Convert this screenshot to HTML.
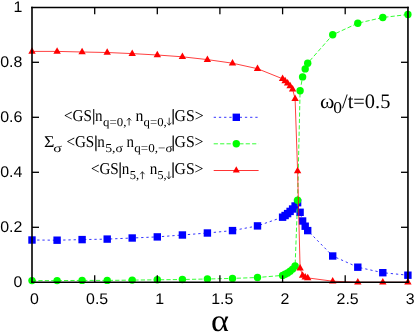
<!DOCTYPE html>
<html><head><meta charset="utf-8"><style>
html,body{margin:0;padding:0;background:#fff;}
svg{display:block;will-change:transform;transform:translateZ(0)}
.t{font-family:"Liberation Sans",sans-serif;font-size:15.4px;fill:#000;text-rendering:geometricPrecision}
.s{font-family:"Liberation Serif",serif;font-size:15.4px;fill:#000;text-rendering:geometricPrecision}
</style></head><body>
<svg width="415" height="333" viewBox="0 0 415 333">
<rect width="415" height="333" fill="#fff"/>
<g class="s">
<text transform="translate(64.01,120.50) scale(0.917,1.000)" font-size="16.5">&lt;GS|n</text>
<text transform="translate(103.07,125.50) scale(1.055,1.000)" font-size="12.2">q=0,</text>
<text transform="translate(135.42,120.50) scale(0.960,1.000)" font-size="16.5">n</text>
<text transform="translate(143.58,125.50) scale(1.046,1.000)" font-size="12.2">q=0,</text>
<text transform="translate(171.41,120.50) scale(0.954,1.000)" font-size="16.5">|GS&gt;</text>
<text transform="translate(43.88,147.40) scale(1.087,1.000)" font-size="16.5">Σ</text>
<text transform="translate(53.35,152.40) scale(1.300,1.000)" font-size="12.2">σ</text>
<text transform="translate(66.41,147.40) scale(0.915,1.000)" font-size="16.5">&lt;GS|n</text>
<text transform="translate(105.15,152.40) scale(1.132,1.000)" font-size="12.2">5,σ</text>
<text transform="translate(126.55,147.40) scale(0.907,1.000)" font-size="16.5">n</text>
<text transform="translate(134.26,152.40) scale(1.074,1.000)" font-size="12.2">q=0,−σ</text>
<text transform="translate(171.41,147.40) scale(0.951,1.000)" font-size="16.5">|GS&gt;</text>
<text transform="translate(90.91,174.20) scale(0.917,1.000)" font-size="16.5">&lt;GS|n</text>
<text transform="translate(129.83,179.20) scale(1.032,1.000)" font-size="12.2">5,</text>
<text transform="translate(149.64,174.20) scale(0.920,1.000)" font-size="16.5">n</text>
<text transform="translate(157.55,179.20) scale(0.994,1.000)" font-size="12.2">5,</text>
<text transform="translate(171.41,174.20) scale(0.951,1.000)" font-size="16.5">|GS&gt;</text>
<text transform="translate(320.00,108.40) scale(1.067,1.000)" font-size="20.5">ω</text>
<text transform="translate(333.30,113.40) scale(1.067,1.000)" font-size="16.5">0</text>
<text transform="translate(342.00,108.40) scale(0.995,1.000)" font-size="20.5">/t=0.5</text>
<text transform="translate(211.08,331.20) scale(1.223,1.125)" font-size="28">α</text>
<path d="M129.1,125.5 V118.1 M127.0,120.5 L129.1,118.0 L131.2,120.5" fill="none" stroke="#000" stroke-width="0.75"/>
<path d="M169.2,117.7 V125.1 M167.1,122.7 L169.2,125.2 L171.3,122.7" fill="none" stroke="#000" stroke-width="0.75"/>
<path d="M142.4,179.2 V171.8 M140.3,174.2 L142.4,171.7 L144.5,174.2" fill="none" stroke="#000" stroke-width="0.75"/>
<path d="M168.9,171.4 V178.8 M166.8,176.4 L168.9,178.9 L171.0,176.4" fill="none" stroke="#000" stroke-width="0.75"/>
<path d="M93.7,108.9 V124.3" stroke="#333" stroke-width="1.2" fill="none"/>
<path d="M96.0,135.8 V151.2" stroke="#333" stroke-width="1.2" fill="none"/>
<path d="M120.1,162.6 V178.0" stroke="#333" stroke-width="1.2" fill="none"/>
<path d="M173.3,108.9 V124.3" stroke="#333" stroke-width="1.2" fill="none"/>
<path d="M173.4,135.8 V151.2" stroke="#333" stroke-width="1.2" fill="none"/>
<path d="M173.1,162.6 V178.0" stroke="#333" stroke-width="1.2" fill="none"/>
</g>
<g stroke-width="1">
<line x1="213.7" y1="117.3" x2="258.6" y2="117.3" stroke="#0000ff" stroke-width="0.8" stroke-dasharray="2.3,2.9"/>
<rect x="232.6" y="113.6" width="7.4" height="7.4" fill="#0000ff"/>
<line x1="213.7" y1="143.8" x2="258.6" y2="143.8" stroke="#00ff00" stroke-width="0.8" stroke-dasharray="4.2,2.2"/>
<circle cx="236.3" cy="143.8" r="3.7" fill="#00ff00"/>
<line x1="213.7" y1="170.5" x2="258.6" y2="170.5" stroke="#ff0000" stroke-width="0.8"/>
<path d="M236.3,166.2 L232.8,172.5 L239.8,172.5 Z" fill="#ff0000"/>
</g>
<polyline points="32.0,240.0 57.1,240.2 82.1,239.6 107.2,239.1 132.2,238.0 157.3,236.9 182.4,235.0 207.4,233.0 232.5,230.6 257.5,225.9 282.6,217.2 285.1,215.5 287.6,213.6 290.1,211.4 292.6,209.0 295.1,206.0 297.6,202.7 300.1,212.3 302.6,221.0 305.2,226.2 307.7,230.6 332.7,256.0 357.8,267.2 382.8,272.7 407.9,275.2" fill="none" stroke="#0000ff" stroke-width="0.8" stroke-dasharray="2.3,2.9"/>
<rect x="28.3" y="236.3" width="7.4" height="7.4" fill="#0000ff"/>
<rect x="53.4" y="236.5" width="7.4" height="7.4" fill="#0000ff"/>
<rect x="78.4" y="235.9" width="7.4" height="7.4" fill="#0000ff"/>
<rect x="103.5" y="235.4" width="7.4" height="7.4" fill="#0000ff"/>
<rect x="128.5" y="234.3" width="7.4" height="7.4" fill="#0000ff"/>
<rect x="153.6" y="233.2" width="7.4" height="7.4" fill="#0000ff"/>
<rect x="178.7" y="231.3" width="7.4" height="7.4" fill="#0000ff"/>
<rect x="203.7" y="229.3" width="7.4" height="7.4" fill="#0000ff"/>
<rect x="228.8" y="226.9" width="7.4" height="7.4" fill="#0000ff"/>
<rect x="253.8" y="222.2" width="7.4" height="7.4" fill="#0000ff"/>
<rect x="278.9" y="213.5" width="7.4" height="7.4" fill="#0000ff"/>
<rect x="281.4" y="211.8" width="7.4" height="7.4" fill="#0000ff"/>
<rect x="283.9" y="209.9" width="7.4" height="7.4" fill="#0000ff"/>
<rect x="286.4" y="207.7" width="7.4" height="7.4" fill="#0000ff"/>
<rect x="288.9" y="205.3" width="7.4" height="7.4" fill="#0000ff"/>
<rect x="291.4" y="202.3" width="7.4" height="7.4" fill="#0000ff"/>
<rect x="293.9" y="199.0" width="7.4" height="7.4" fill="#0000ff"/>
<rect x="296.4" y="208.6" width="7.4" height="7.4" fill="#0000ff"/>
<rect x="298.9" y="217.3" width="7.4" height="7.4" fill="#0000ff"/>
<rect x="301.5" y="222.5" width="7.4" height="7.4" fill="#0000ff"/>
<rect x="304.0" y="226.9" width="7.4" height="7.4" fill="#0000ff"/>
<rect x="329.0" y="252.3" width="7.4" height="7.4" fill="#0000ff"/>
<rect x="354.1" y="263.5" width="7.4" height="7.4" fill="#0000ff"/>
<rect x="379.1" y="269.0" width="7.4" height="7.4" fill="#0000ff"/>
<rect x="404.2" y="271.5" width="7.4" height="7.4" fill="#0000ff"/>
<polyline points="32.0,280.6 57.1,280.6 82.1,280.4 107.2,280.4 132.2,280.1 157.3,279.8 182.4,279.5 207.4,279.0 232.5,278.4 257.5,277.5 282.6,275.4 285.1,274.3 287.6,273.0 290.1,271.3 292.6,269.1 295.1,265.9 297.6,200.2 300.1,90.8 302.6,76.9 305.2,68.9 307.7,63.2 332.7,34.8 357.8,23.2 382.8,17.5 407.9,14.5" fill="none" stroke="#00ff00" stroke-width="0.8" stroke-dasharray="4.2,2.2"/>
<circle cx="32.0" cy="280.6" r="3.7" fill="#00ff00"/>
<circle cx="57.1" cy="280.6" r="3.7" fill="#00ff00"/>
<circle cx="82.1" cy="280.4" r="3.7" fill="#00ff00"/>
<circle cx="107.2" cy="280.4" r="3.7" fill="#00ff00"/>
<circle cx="132.2" cy="280.1" r="3.7" fill="#00ff00"/>
<circle cx="157.3" cy="279.8" r="3.7" fill="#00ff00"/>
<circle cx="182.4" cy="279.5" r="3.7" fill="#00ff00"/>
<circle cx="207.4" cy="279.0" r="3.7" fill="#00ff00"/>
<circle cx="232.5" cy="278.4" r="3.7" fill="#00ff00"/>
<circle cx="257.5" cy="277.5" r="3.7" fill="#00ff00"/>
<circle cx="282.6" cy="275.4" r="3.7" fill="#00ff00"/>
<circle cx="285.1" cy="274.3" r="3.7" fill="#00ff00"/>
<circle cx="287.6" cy="273.0" r="3.7" fill="#00ff00"/>
<circle cx="290.1" cy="271.3" r="3.7" fill="#00ff00"/>
<circle cx="292.6" cy="269.1" r="3.7" fill="#00ff00"/>
<circle cx="295.1" cy="265.9" r="3.7" fill="#00ff00"/>
<circle cx="297.6" cy="200.2" r="3.7" fill="#00ff00"/>
<circle cx="300.1" cy="90.8" r="3.7" fill="#00ff00"/>
<circle cx="302.6" cy="76.9" r="3.7" fill="#00ff00"/>
<circle cx="305.2" cy="68.9" r="3.7" fill="#00ff00"/>
<circle cx="307.7" cy="63.2" r="3.7" fill="#00ff00"/>
<circle cx="332.7" cy="34.8" r="3.7" fill="#00ff00"/>
<circle cx="357.8" cy="23.2" r="3.7" fill="#00ff00"/>
<circle cx="382.8" cy="17.5" r="3.7" fill="#00ff00"/>
<circle cx="407.9" cy="14.5" r="3.7" fill="#00ff00"/>
<polyline points="32.0,51.4 57.1,51.4 82.1,52.0 107.2,52.5 132.2,53.6 157.3,55.0 182.4,56.8 207.4,59.6 232.5,63.2 257.5,68.7 282.6,78.8 285.1,81.0 287.6,83.2 290.1,85.9 292.6,89.2 295.1,98.8 297.6,171.0 300.1,268.1 302.6,275.4 305.2,277.1 307.7,277.9 332.7,281.2 357.8,282.3 382.8,282.3 407.9,282.3" fill="none" stroke="#ff0000" stroke-width="0.75"/>
<path d="M32.0,47.2 L28.3,53.7 L35.7,53.7 Z" fill="#ff0000"/>
<path d="M57.1,47.2 L53.4,53.7 L60.8,53.7 Z" fill="#ff0000"/>
<path d="M82.1,47.8 L78.4,54.3 L85.8,54.3 Z" fill="#ff0000"/>
<path d="M107.2,48.3 L103.5,54.8 L110.9,54.8 Z" fill="#ff0000"/>
<path d="M132.2,49.4 L128.5,55.9 L135.9,55.9 Z" fill="#ff0000"/>
<path d="M157.3,50.8 L153.6,57.3 L161.0,57.3 Z" fill="#ff0000"/>
<path d="M182.4,52.6 L178.7,59.1 L186.1,59.1 Z" fill="#ff0000"/>
<path d="M207.4,55.4 L203.7,61.9 L211.1,61.9 Z" fill="#ff0000"/>
<path d="M232.5,59.0 L228.8,65.5 L236.2,65.5 Z" fill="#ff0000"/>
<path d="M257.5,64.5 L253.8,71.0 L261.2,71.0 Z" fill="#ff0000"/>
<path d="M282.6,74.6 L278.9,81.1 L286.3,81.1 Z" fill="#ff0000"/>
<path d="M285.1,76.8 L281.4,83.3 L288.8,83.3 Z" fill="#ff0000"/>
<path d="M287.6,79.0 L283.9,85.5 L291.3,85.5 Z" fill="#ff0000"/>
<path d="M290.1,81.7 L286.4,88.2 L293.8,88.2 Z" fill="#ff0000"/>
<path d="M292.6,85.0 L288.9,91.5 L296.3,91.5 Z" fill="#ff0000"/>
<path d="M295.1,94.6 L291.4,101.1 L298.8,101.1 Z" fill="#ff0000"/>
<path d="M297.6,166.8 L293.9,173.3 L301.3,173.3 Z" fill="#ff0000"/>
<path d="M300.1,263.9 L296.4,270.4 L303.8,270.4 Z" fill="#ff0000"/>
<path d="M302.6,271.2 L298.9,277.7 L306.3,277.7 Z" fill="#ff0000"/>
<path d="M305.2,272.9 L301.5,279.4 L308.9,279.4 Z" fill="#ff0000"/>
<path d="M307.7,273.7 L304.0,280.2 L311.4,280.2 Z" fill="#ff0000"/>
<path d="M332.7,277.0 L329.0,283.5 L336.4,283.5 Z" fill="#ff0000"/>
<path d="M357.8,278.1 L354.1,284.6 L361.5,284.6 Z" fill="#ff0000"/>
<path d="M382.8,278.1 L379.1,284.6 L386.5,284.6 Z" fill="#ff0000"/>
<path d="M407.9,278.1 L404.2,284.6 L411.6,284.6 Z" fill="#ff0000"/>
<g stroke="#000" stroke-width="1.3" fill="none">
<line x1="32" y1="6.8" x2="32" y2="283" stroke-width="1.6"/>
<line x1="407.95" y1="6.8" x2="407.95" y2="283" stroke-width="1.6"/>
<line x1="31.2" y1="7.45" x2="408.75" y2="7.45" stroke-width="1.35"/>
<line x1="31.2" y1="282.3" x2="408.75" y2="282.3" stroke-width="1.4"/>
<line x1="94.7" y1="282.3" x2="94.7" y2="275.3"/>
<line x1="94.7" y1="7.3" x2="94.7" y2="14.3"/>
<line x1="157.3" y1="282.3" x2="157.3" y2="275.3"/>
<line x1="157.3" y1="7.3" x2="157.3" y2="14.3"/>
<line x1="219.9" y1="282.3" x2="219.9" y2="275.3"/>
<line x1="219.9" y1="7.3" x2="219.9" y2="14.3"/>
<line x1="282.6" y1="282.3" x2="282.6" y2="275.3"/>
<line x1="282.6" y1="7.3" x2="282.6" y2="14.3"/>
<line x1="345.2" y1="282.3" x2="345.2" y2="275.3"/>
<line x1="345.2" y1="7.3" x2="345.2" y2="14.3"/>
<line x1="32" y1="227.3" x2="39" y2="227.3"/>
<line x1="408" y1="227.3" x2="401" y2="227.3"/>
<line x1="32" y1="172.3" x2="39" y2="172.3"/>
<line x1="408" y1="172.3" x2="401" y2="172.3"/>
<line x1="32" y1="117.3" x2="39" y2="117.3"/>
<line x1="408" y1="117.3" x2="401" y2="117.3"/>
<line x1="32" y1="62.3" x2="39" y2="62.3"/>
<line x1="408" y1="62.3" x2="401" y2="62.3"/>
</g>
<g class="t">
<text transform="translate(34.4,303.7) scale(1.035,1)" text-anchor="middle">0</text>
<text transform="translate(97.1,303.7) scale(1.035,1)" text-anchor="middle">0.5</text>
<text transform="translate(159.7,303.7) scale(1.035,1)" text-anchor="middle">1</text>
<text transform="translate(222.3,303.7) scale(1.035,1)" text-anchor="middle">1.5</text>
<text transform="translate(285.0,303.7) scale(1.035,1)" text-anchor="middle">2</text>
<text transform="translate(347.6,303.7) scale(1.035,1)" text-anchor="middle">2.5</text>
<text transform="translate(410.3,303.7) scale(1.035,1)" text-anchor="middle">3</text>
<text transform="translate(22.4,287.3) scale(1.035,1)" text-anchor="end">0</text>
<text transform="translate(22.4,232.3) scale(1.035,1)" text-anchor="end">0.2</text>
<text transform="translate(22.4,177.3) scale(1.035,1)" text-anchor="end">0.4</text>
<text transform="translate(22.4,122.3) scale(1.035,1)" text-anchor="end">0.6</text>
<text transform="translate(22.4,67.3) scale(1.035,1)" text-anchor="end">0.8</text>
<text transform="translate(22.4,12.3) scale(1.035,1)" text-anchor="end">1</text>
</g>
</svg>
</body></html>
